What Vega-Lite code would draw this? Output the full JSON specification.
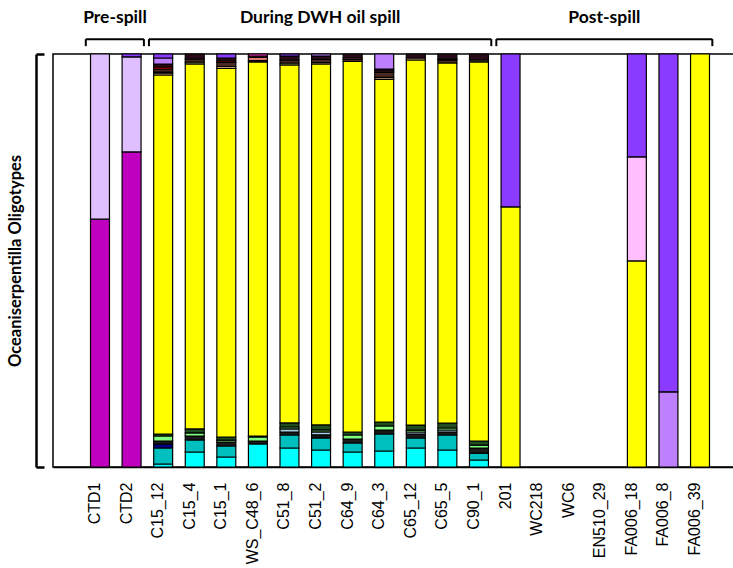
{
  "$schema": "https://vega.github.io/schema/vega-lite/v6.json",
  "width": 681,
  "height": 413,
  "autosize": {"type": "none"},
  "padding": {"left": 53, "top": 54, "right": 0, "bottom": 101},
  "config": {"view": {"stroke": "#000", "strokeWidth": 1.5}, "font": "Lato"},
  "layer": [
    {
      "data": {
        "values": [
          {"sample": "CTD1", "type": "O17", "value": 0.600},
          {"sample": "CTD1", "type": "O18", "value": 0.400},
          {"sample": "CTD2", "type": "O17", "value": 0.763},
          {"sample": "CTD2", "type": "O18", "value": 0.230},
          {"sample": "CTD2", "type": "O20", "value": 0.007},

          {"sample": "C15_12", "type": "O01", "value": 0.0073},
          {"sample": "C15_12", "type": "O02", "value": 0.0387},
          {"sample": "C15_12", "type": "O03", "value": 0.0097},
          {"sample": "C15_12", "type": "O04", "value": 0.0073},
          {"sample": "C15_12", "type": "O06", "value": 0.0121},
          {"sample": "C15_12", "type": "O07", "value": 0.0048},
          {"sample": "C15_12", "type": "O08", "value": 0.8692},
          {"sample": "C15_12", "type": "O09", "value": 0.0048},
          {"sample": "C15_12", "type": "O10", "value": 0.0024},
          {"sample": "C15_12", "type": "O11", "value": 0.0073},
          {"sample": "C15_12", "type": "O13", "value": 0.0048},
          {"sample": "C15_12", "type": "O14", "value": 0.0073},
          {"sample": "C15_12", "type": "O19", "value": 0.0145},
          {"sample": "C15_12", "type": "O20", "value": 0.0097},

          {"sample": "C15_4", "type": "O01", "value": 0.0363},
          {"sample": "C15_4", "type": "O02", "value": 0.0291},
          {"sample": "C15_4", "type": "O04", "value": 0.0097},
          {"sample": "C15_4", "type": "O06", "value": 0.0073},
          {"sample": "C15_4", "type": "O07", "value": 0.0097},
          {"sample": "C15_4", "type": "O08", "value": 0.8838},
          {"sample": "C15_4", "type": "O10", "value": 0.0048},
          {"sample": "C15_4", "type": "O11", "value": 0.0073},
          {"sample": "C15_4", "type": "O14", "value": 0.0121},

          {"sample": "C15_1", "type": "O01", "value": 0.0242},
          {"sample": "C15_1", "type": "O02", "value": 0.0266},
          {"sample": "C15_1", "type": "O04", "value": 0.0097},
          {"sample": "C15_1", "type": "O06", "value": 0.0048},
          {"sample": "C15_1", "type": "O07", "value": 0.0073},
          {"sample": "C15_1", "type": "O08", "value": 0.8923},
          {"sample": "C15_1", "type": "O09", "value": 0.0048},
          {"sample": "C15_1", "type": "O11", "value": 0.0097},
          {"sample": "C15_1", "type": "O13", "value": 0.0036},
          {"sample": "C15_1", "type": "O14", "value": 0.0073},
          {"sample": "C15_1", "type": "O20", "value": 0.0097},

          {"sample": "WS_C48_6", "type": "O01", "value": 0.0557},
          {"sample": "WS_C48_6", "type": "O04", "value": 0.0073},
          {"sample": "WS_C48_6", "type": "O06", "value": 0.0097},
          {"sample": "WS_C48_6", "type": "O07", "value": 0.0024},
          {"sample": "WS_C48_6", "type": "O08", "value": 0.9056},
          {"sample": "WS_C48_6", "type": "O11", "value": 0.0036},
          {"sample": "WS_C48_6", "type": "O12", "value": 0.0073},
          {"sample": "WS_C48_6", "type": "O13", "value": 0.0036},
          {"sample": "WS_C48_6", "type": "O15", "value": 0.0048},

          {"sample": "C51_8", "type": "O01", "value": 0.0460},
          {"sample": "C51_8", "type": "O02", "value": 0.0315},
          {"sample": "C51_8", "type": "O04", "value": 0.0073},
          {"sample": "C51_8", "type": "O05", "value": 0.0073},
          {"sample": "C51_8", "type": "O06", "value": 0.0048},
          {"sample": "C51_8", "type": "O07", "value": 0.0097},
          {"sample": "C51_8", "type": "O08", "value": 0.8668},
          {"sample": "C51_8", "type": "O10", "value": 0.0048},
          {"sample": "C51_8", "type": "O11", "value": 0.0073},
          {"sample": "C51_8", "type": "O14", "value": 0.0097},
          {"sample": "C51_8", "type": "O20", "value": 0.0048},

          {"sample": "C51_2", "type": "O01", "value": 0.0412},
          {"sample": "C51_2", "type": "O02", "value": 0.0291},
          {"sample": "C51_2", "type": "O04", "value": 0.0073},
          {"sample": "C51_2", "type": "O05", "value": 0.0073},
          {"sample": "C51_2", "type": "O06", "value": 0.0048},
          {"sample": "C51_2", "type": "O07", "value": 0.0121},
          {"sample": "C51_2", "type": "O08", "value": 0.8741},
          {"sample": "C51_2", "type": "O10", "value": 0.0036},
          {"sample": "C51_2", "type": "O11", "value": 0.0073},
          {"sample": "C51_2", "type": "O14", "value": 0.0085},
          {"sample": "C51_2", "type": "O19", "value": 0.0048},

          {"sample": "C64_9", "type": "O01", "value": 0.0363},
          {"sample": "C64_9", "type": "O02", "value": 0.0218},
          {"sample": "C64_9", "type": "O04", "value": 0.0097},
          {"sample": "C64_9", "type": "O06", "value": 0.0097},
          {"sample": "C64_9", "type": "O07", "value": 0.0073},
          {"sample": "C64_9", "type": "O08", "value": 0.8971},
          {"sample": "C64_9", "type": "O11", "value": 0.0048},
          {"sample": "C64_9", "type": "O12", "value": 0.0036},
          {"sample": "C64_9", "type": "O14", "value": 0.0097},

          {"sample": "C64_3", "type": "O01", "value": 0.0387},
          {"sample": "C64_3", "type": "O02", "value": 0.0412},
          {"sample": "C64_3", "type": "O04", "value": 0.0097},
          {"sample": "C64_3", "type": "O06", "value": 0.0097},
          {"sample": "C64_3", "type": "O07", "value": 0.0097},
          {"sample": "C64_3", "type": "O08", "value": 0.8293},
          {"sample": "C64_3", "type": "O09", "value": 0.0048},
          {"sample": "C64_3", "type": "O11", "value": 0.0121},
          {"sample": "C64_3", "type": "O12", "value": 0.0036},
          {"sample": "C64_3", "type": "O14", "value": 0.0048},
          {"sample": "C64_3", "type": "O19", "value": 0.0363},

          {"sample": "C65_12", "type": "O01", "value": 0.0460},
          {"sample": "C65_12", "type": "O02", "value": 0.0242},
          {"sample": "C65_12", "type": "O04", "value": 0.0097},
          {"sample": "C65_12", "type": "O05", "value": 0.0048},
          {"sample": "C65_12", "type": "O06", "value": 0.0048},
          {"sample": "C65_12", "type": "O07", "value": 0.0121},
          {"sample": "C65_12", "type": "O08", "value": 0.8838},
          {"sample": "C65_12", "type": "O09", "value": 0.0048},
          {"sample": "C65_12", "type": "O14", "value": 0.0097},

          {"sample": "C65_5", "type": "O01", "value": 0.0412},
          {"sample": "C65_5", "type": "O02", "value": 0.0363},
          {"sample": "C65_5", "type": "O04", "value": 0.0073},
          {"sample": "C65_5", "type": "O05", "value": 0.0048},
          {"sample": "C65_5", "type": "O06", "value": 0.0048},
          {"sample": "C65_5", "type": "O07", "value": 0.0121},
          {"sample": "C65_5", "type": "O08", "value": 0.8717},
          {"sample": "C65_5", "type": "O11", "value": 0.0073},
          {"sample": "C65_5", "type": "O12", "value": 0.0024},
          {"sample": "C65_5", "type": "O14", "value": 0.0121},

          {"sample": "C90_1", "type": "O01", "value": 0.0169},
          {"sample": "C90_1", "type": "O02", "value": 0.0169},
          {"sample": "C90_1", "type": "O04", "value": 0.0121},
          {"sample": "C90_1", "type": "O06", "value": 0.0073},
          {"sample": "C90_1", "type": "O07", "value": 0.0097},
          {"sample": "C90_1", "type": "O08", "value": 0.9177},
          {"sample": "C90_1", "type": "O10", "value": 0.0048},
          {"sample": "C90_1", "type": "O14", "value": 0.0145},

          {"sample": "201", "type": "O08", "value": 0.630},
          {"sample": "201", "type": "O20", "value": 0.370},
          {"sample": "FA006_18", "type": "O08", "value": 0.499},
          {"sample": "FA006_18", "type": "O16", "value": 0.252},
          {"sample": "FA006_18", "type": "O20", "value": 0.249},
          {"sample": "FA006_8", "type": "O19", "value": 0.182},
          {"sample": "FA006_8", "type": "O20", "value": 0.818},
          {"sample": "FA006_39", "type": "O08", "value": 1.0}
        ]
      },
      "mark": {"type": "bar", "stroke": "#000", "strokeWidth": 1.2},
      "encoding": {
        "x": {
          "field": "sample",
          "type": "nominal",
          "sort": null,
          "scale": {
            "domain": ["CTD1", "CTD2", "C15_12", "C15_4", "C15_1", "WS_C48_6", "C51_8", "C51_2", "C64_9", "C64_3", "C65_12", "C65_5", "C90_1", "201", "WC218", "WC6", "EN510_29", "FA006_18", "FA006_8", "FA006_39"],
            "paddingInner": 0.4,
            "paddingOuter": 0.982,
            "align": 0.605
          },
          "axis": {
            "title": null,
            "labelAngle": -90,
            "labelFont": "Liberation Sans",
            "labelFontSize": 16,
            "labelColor": "#000",
            "ticks": false,
            "labelPadding": 15,
            "labelOffset": -5,
            "domainColor": "#000",
            "domainWidth": 1.5
          }
        },
        "y": {
          "field": "value",
          "type": "quantitative",
          "stack": "normalize",
          "scale": {"domain": [0, 1], "nice": false},
          "axis": {
            "title": "Oceaniserpentilla Oligotypes",
            "titleFont": "Lato",
            "titleFontWeight": "bold",
            "titleFontSize": 16.5,
            "titleColor": "#000",
            "titlePadding": 11,
            "labels": false,
            "grid": false,
            "values": [0, 1],
            "tickSize": -8,
            "tickWidth": 2.5,
            "tickColor": "#000",
            "domainColor": "#000",
            "domainWidth": 2.5,
            "offset": 17
          }
        },
        "color": {
          "field": "type",
          "type": "nominal",
          "legend": null,
          "scale": {
            "domain": ["O01", "O02", "O03", "O04", "O05", "O06", "O07", "O08", "O09", "O10", "O11", "O12", "O13", "O14", "O15", "O16", "O17", "O18", "O19", "O20"],
            "range": ["#00FFFF", "#00BFBF", "#000080", "#1A1A1A", "#A6CEE3", "#80FF80", "#1F4F1F", "#FFFF00", "#C8A078", "#80804A", "#4A2A20", "#E07878", "#FF0000", "#2A0A1A", "#FF33CC", "#FFBFFF", "#BF00BF", "#DFBFFF", "#BF80FF", "#8A3BFF"]
          }
        },
        "order": {"field": "type", "type": "nominal", "sort": "ascending"}
      }
    },
    {
      "data": {"name": "periods", "values": [
        {"period": "Pre-spill", "first": "CTD1", "last": "CTD2"},
        {"period": "During DWH oil spill", "first": "C15_12", "last": "C90_1"},
        {"period": "Post-spill", "first": "201", "last": "FA006_39"}
      ]},
      "layer": [
        {
          "mark": {"type": "rule", "color": "#000", "strokeWidth": 2},
          "encoding": {
            "x": {"field": "first", "type": "nominal", "bandPosition": -0.25},
            "x2": {"field": "last", "bandPosition": 1.15},
            "y": {"datum": 1.036}
          }
        },
        {
          "mark": {"type": "rule", "color": "#000", "strokeWidth": 2},
          "encoding": {
            "x": {"field": "first", "type": "nominal", "bandPosition": -0.25},
            "y": {"datum": 1.036},
            "y2": {"datum": 1.019}
          }
        },
        {
          "mark": {"type": "rule", "color": "#000", "strokeWidth": 2},
          "encoding": {
            "x": {"field": "last", "type": "nominal", "bandPosition": 1.15},
            "y": {"datum": 1.036},
            "y2": {"datum": 1.019}
          }
        },
        {
          "transform": [{"filter": "datum.period === 'Pre-spill'"}],
          "mark": {"type": "text", "font": "Lato", "fontWeight": "bold", "fontSize": 17.5, "color": "#000", "baseline": "middle", "align": "center"},
          "encoding": {
            "x": {"datum": "CTD1", "bandPosition": 1.29},
            "y": {"datum": 1.088},
            "text": {"field": "period"}
          }
        },
        {
          "transform": [{"filter": "datum.period === 'During DWH oil spill'"}],
          "mark": {"type": "text", "font": "Lato", "fontWeight": "bold", "fontSize": 17.5, "color": "#000", "baseline": "middle", "align": "center"},
          "encoding": {
            "x": {"datum": "C51_2", "bandPosition": 0.45},
            "y": {"datum": 1.088},
            "text": {"field": "period"}
          }
        },
        {
          "transform": [{"filter": "datum.period === 'Post-spill'"}],
          "mark": {"type": "text", "font": "Lato", "fontWeight": "bold", "fontSize": 17.5, "color": "#000", "baseline": "middle", "align": "center"},
          "encoding": {
            "x": {"datum": "EN510_29", "bandPosition": 0.45},
            "y": {"datum": 1.088},
            "text": {"field": "period"}
          }
        }
      ]
    }
  ]
}
